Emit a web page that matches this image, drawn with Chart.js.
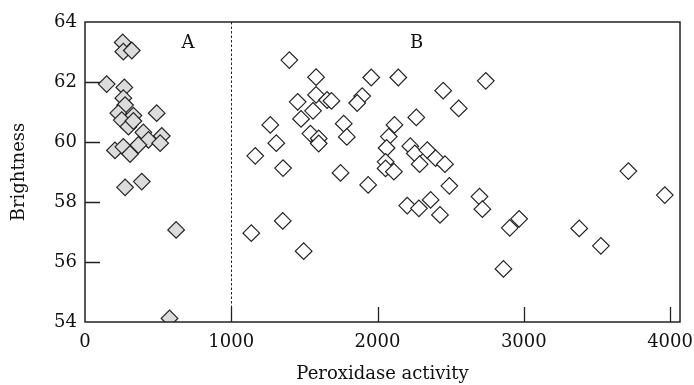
<!DOCTYPE html>
<html>
<head>
<meta charset="utf-8">
<script src="https://cdn.jsdelivr.net/npm/chart.js@4/dist/chart.umd.min.js"></script>
<style>html,body{margin:0;padding:0;background:#fff;}</style>
</head>
<body>
<canvas id="c" width="694" height="385"></canvas>
<script>
// ---- data ----
const groupA_x = [258, 262, 320, 148, 269, 262, 274, 228, 331, 490, 251, 297, 331, 399, 434, 525, 514, 205, 262, 308, 365, 274, 388, 623, 578];
const groupA_y = [63.32, 63.01, 63.05, 61.93, 61.82, 61.46, 61.23, 60.96, 60.88, 60.96, 60.73, 60.51, 60.70, 60.32, 60.07, 60.20, 59.96, 59.72, 59.84, 59.60, 59.90, 58.49, 58.68, 57.07, 54.12];
const groupB_x = [1397, 1580, 1957, 2142, 2449, 2555, 1580, 1454, 1655, 1685, 1895, 1861, 1559, 1477, 1267, 1769, 2265, 2116, 1541, 1598, 1598, 1790, 1308, 2077, 2062, 2224, 2255, 2340, 2397, 2461, 2288, 2055, 2055, 2112, 1164, 1354, 1747, 1936, 2491, 2203, 2283, 2363, 2427, 1352, 1137, 1495, 2740, 3715, 3964, 2697, 2717, 2904, 2968, 2861, 3379, 3527];
const groupB_y = [62.73, 62.16, 62.15, 62.15, 61.71, 61.12, 61.57, 61.34, 61.40, 61.37, 61.53, 61.30, 61.04, 60.77, 60.57, 60.61, 60.82, 60.57, 60.28, 60.12, 59.95, 60.17, 59.96, 60.18, 59.80, 59.86, 59.62, 59.73, 59.46, 59.26, 59.26, 59.34, 59.12, 59.01, 59.54, 59.13, 58.97, 58.57, 58.54, 57.88, 57.79, 58.07, 57.57, 57.37, 56.96, 56.36, 62.04, 59.03, 58.23, 58.18, 57.76, 57.14, 57.44, 55.77, 57.12, 56.54];
const xTickValues = [0, 1000, 2000, 3000, 4000];
const yTickValues = [54, 56, 58, 60, 62, 64];
const dividerX = 1000;
const regionLabels = ['A', 'B'];
const regionLabelX = [705, 2268];
const regionLabelY = 63.3;
const xTitle = 'Peroxidase activity';
const yTitle = 'Brightness';

const FONT = '"DejaVu Serif", "Liberation Serif", serif';
const toPts = (xs, ys) => xs.map((v, i) => ({x: v, y: ys[i]}));

const decor = {
  id: 'decor',
  beforeDatasetsDraw(chart) {
    const {ctx, chartArea: a, scales: {x, y}} = chart;
    ctx.save();
    ctx.strokeStyle = '#222';
    ctx.lineWidth = 1;
    ctx.setLineDash([2.5, 2]);
    const px = Math.round(x.getPixelForValue(dividerX)) + 0.5;
    ctx.beginPath(); ctx.moveTo(px, a.top); ctx.lineTo(px, a.bottom); ctx.stroke();
    ctx.setLineDash([]);
    ctx.fillStyle = '#111';
    ctx.font = '18px ' + FONT;
    ctx.textAlign = 'center';
    ctx.textBaseline = 'middle';
    regionLabels.forEach((t, i) => {
      ctx.fillText(t, x.getPixelForValue(regionLabelX[i]), y.getPixelForValue(regionLabelY));
    });
    ctx.restore();
  },
  afterDatasetsDraw(chart) {
    const {ctx, chartArea: a, scales: {x, y}} = chart;
    ctx.save();
    ctx.strokeStyle = '#222';
    ctx.lineWidth = 1.3;
    ctx.beginPath();
    yTickValues.slice(1, -1).forEach(v => {
      const py = Math.round(y.getPixelForValue(v)) + 0.5;
      ctx.moveTo(a.left, py); ctx.lineTo(a.left + 15, py);
    });
    xTickValues.slice(1).forEach(v => {
      const px = Math.round(x.getPixelForValue(v)) + 0.5;
      ctx.moveTo(px, a.bottom); ctx.lineTo(px, a.bottom - 15);
    });
    ctx.stroke();
    ctx.lineWidth = 1.5;
    ctx.strokeRect(a.left, a.top, a.right - a.left, a.bottom - a.top);
    ctx.restore();
  }
};

new Chart(document.getElementById('c'), {
  type: 'scatter',
  data: {
    datasets: [
      {
        label: 'A',
        data: toPts(groupA_x, groupA_y),
        pointStyle: 'rectRot',
        pointRadius: 8.3,
        pointBackgroundColor: '#dcdcdc',
        pointBorderColor: '#222',
        pointBorderWidth: 1.2
      },
      {
        label: 'B',
        data: toPts(groupB_x, groupB_y),
        pointStyle: 'rectRot',
        pointRadius: 8.3,
        pointBackgroundColor: '#ffffff',
        pointBorderColor: '#222',
        pointBorderWidth: 1.2
      }
    ]
  },
  options: {
    responsive: false,
    animation: false,
    layout: {padding: {top: 22, right: 14, left: 0, bottom: 0}},
    plugins: {legend: {display: false}, tooltip: {enabled: false}},
    scales: {
      x: {
        type: 'linear',
        min: 0,
        max: 4068,
        grid: {display: false, drawTicks: false},
        border: {display: false},
        afterBuildTicks: s => { s.ticks = xTickValues.map(v => ({value: v})); },
        ticks: {color: '#111', font: {family: FONT, size: 18}, padding: 10, maxRotation: 0, callback: v => String(v)},
        title: {display: true, text: xTitle, color: '#111', font: {family: FONT, size: 18}, padding: {top: 0, bottom: 0}},
        afterFit: s => { s.height = 63; s.paddingLeft = 0; s.paddingRight = 0; }
      },
      y: {
        type: 'linear',
        min: 54,
        max: 64,
        grid: {display: false, drawTicks: false},
        border: {display: false},
        afterBuildTicks: s => { s.ticks = yTickValues.map(v => ({value: v})); },
        ticks: {color: '#111', font: {family: FONT, size: 18}, padding: 8, callback: v => String(v)},
        title: {display: true, text: yTitle, color: '#111', font: {family: FONT, size: 18}, padding: {top: 9, bottom: 0}},
        afterFit: s => { s.width = 85; s.paddingTop = 0; s.paddingBottom = 0; }
      }
    }
  },
  plugins: [decor]
});
</script>
</body>
</html>
